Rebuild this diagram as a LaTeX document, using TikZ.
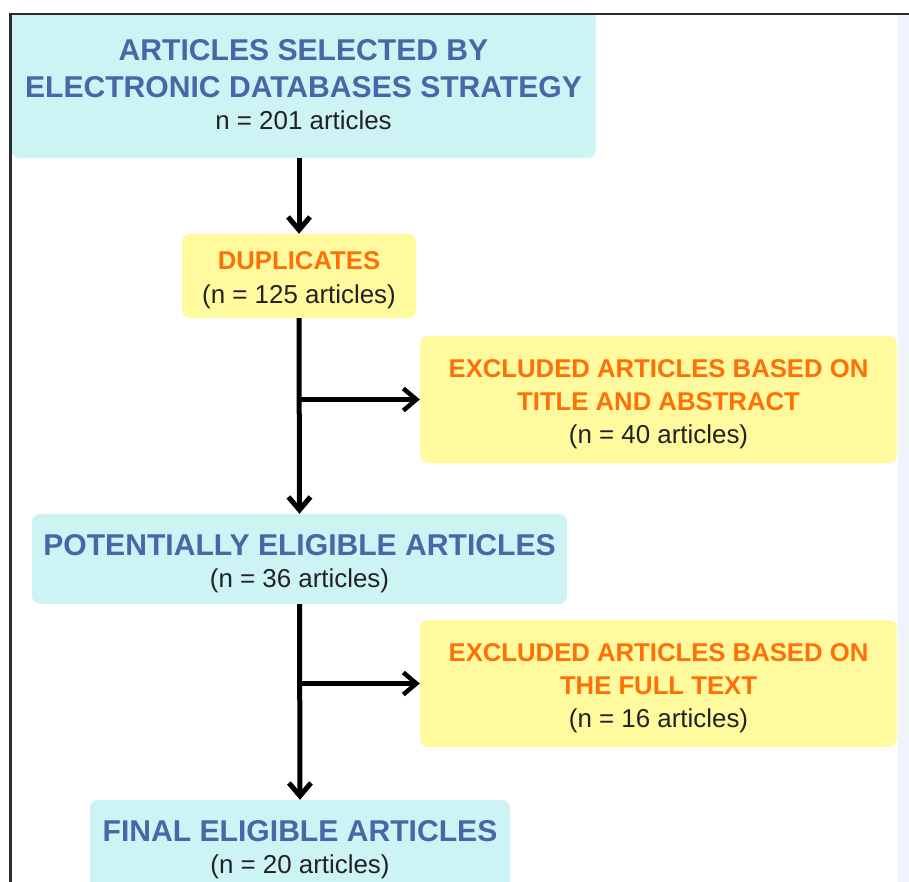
\documentclass[tikz,border=0pt]{standalone}
\usepackage{fontspec}
\setmainfont{Liberation Sans}
\usetikzlibrary{arrows.meta, positioning}
\definecolor{cyanbg}{HTML}{CEF3F5}
\definecolor{hdblue}{HTML}{4A66A6}
\definecolor{ylwbg}{HTML}{FFFA9E}
\definecolor{exorange}{HTML}{FF7008}
\definecolor{txtdark}{HTML}{222222}
\definecolor{frameline}{HTML}{2B2B2B}
\definecolor{sidestrip}{HTML}{EEF3FC}

\newcommand{\bluehead}{\fontsize{30.1}{34}\selectfont\bfseries\color{hdblue}}
\newcommand{\orangehead}{\fontsize{25.7}{34}\selectfont\bfseries\color{exorange}}
\newcommand{\countline}{\fontsize{25.9}{34}\selectfont\mdseries\color{txtdark}}
\newcommand{\topstrut}[1]{\rule{0pt}{#1}}
\newcommand{\botstrut}[1]{\rule[-#1]{0pt}{#1}}

\begin{document}
\begin{tikzpicture}[x=1pt, y=-1pt, >={Straight Barb[length=13pt, width=22pt]},
  stagebox/.style={fill=cyanbg, rounded corners=8pt, align=center, inner sep=0pt, font=\countline},
  exclbox/.style={fill=ylwbg, rounded corners=8pt, align=center, inner sep=0pt, font=\countline},
  flow/.style={->, black, line width=5pt},
  branch/.style={->, black, line width=4.5pt}]
\useasboundingbox (0,0) rectangle (909,882);

% side strip at the right edge
\fill[sidestrip] (898,15.5) rectangle (909,882);

% ========== Main column ==========
\node[stagebox, minimum width=585pt, minimum height=143pt] (sel) at (303.5,86.5)
  {{\bluehead ARTICLES SELECTED BY}\\[3pt]{\bluehead ELECTRONIC DATABASES STRATEGY}\\[-2pt]n = 201 articles\botstrut{4pt}};
\fill[cyanbg] (sel.north west) rectangle ([yshift=-12pt]sel.north east);

\node[exclbox, minimum width=234pt, minimum height=84pt] (dup) at (299,276)
  {{\orangehead\topstrut{26pt}DUPLICATES}\\(n = 125 articles)};

\node[stagebox, minimum width=535pt, minimum height=90pt] (pot) at (299.5,559)
  {{\bluehead\topstrut{30pt}POTENTIALLY ELIGIBLE ARTICLES}\\[-2pt](n = 36 articles)};

\node[stagebox, minimum width=420pt, minimum height=90pt] (fin) at (300,845)
  {{\bluehead\topstrut{30pt}FINAL ELIGIBLE ARTICLES}\\[-2pt](n = 20 articles)};

% ========== Exclusions ==========
\node[exclbox, minimum width=477pt, minimum height=127pt] (exa) at (658.5,399.5)
  {{\orangehead\topstrut{28pt}EXCLUDED ARTICLES BASED ON}\\[-1pt]{\orangehead TITLE AND ABSTRACT}\\[-1pt](n = 40 articles)};

\node[exclbox, minimum width=477pt, minimum height=127pt] (exb) at (658.5,683.5)
  {{\orangehead\topstrut{28pt}EXCLUDED ARTICLES BASED ON}\\[-1pt]{\orangehead THE FULL TEXT}\\[-1pt](n = 16 articles)};

% Arrows
\draw[flow] (dup.north |- sel.south) -- (dup.north);
\draw[flow] (dup.south) -- (pot.north);
\draw[flow] (pot.south) -- (fin.north);
\draw[branch] (dup.south |- exa.west) -- (exa.west);
\draw[branch] (pot.south |- exb.west) -- (exb.west);

% frame
\draw[frameline, line width=2.8pt] (10.3,882) -- (10.3,14) -- (909,14);

\end{tikzpicture}
\end{document}
